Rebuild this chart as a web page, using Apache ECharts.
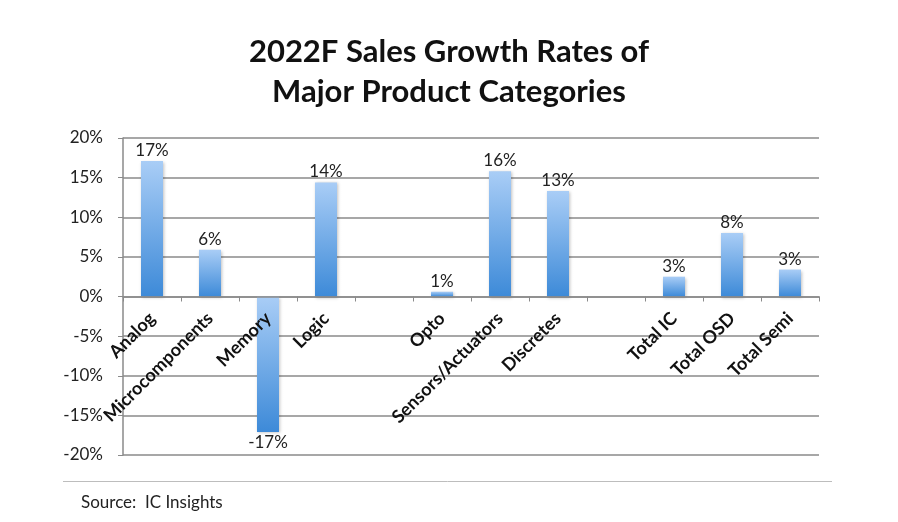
<!DOCTYPE html>
<html>
<head>
<meta charset="utf-8">
<script src="https://cdn.jsdelivr.net/npm/echarts@6/dist/echarts.min.js"></script>
<style>
  html, body { margin: 0; padding: 0; background: #fff; }
  #chart { width: 898px; height: 522px; }
</style>
</head>
<body>
<div id="chart"></div>
<script>
// categories (blank slots separate the groups)
const categories = ["Analog", "Microcomponents", "Memory", "Logic", "",
    "Opto", "Sensors/Actuators", "Discretes", "",
    "Total IC", "Total OSD", "Total Semi"];
// growth rate, %
const growth = [17.1, 5.9, -17.1, 14.4, null, 0.6, 15.8, 13.3, null, 2.5, 8.0, 3.4];
const yTicks = { min: -20, max: 20, interval: 5 };

const FONT = "Lato, 'Open Sans', sans-serif";
const GRID = { left: 123, right: 79, top: 138, bottom: 67 };
// plot height, so the category axis can sit on the 0% line
var plotH = 522 - GRID.top - GRID.bottom;
var zeroOffset = -plotH * (0 - yTicks.min) / (yTicks.max - yTicks.min);

var barFill = new echarts.graphic.LinearGradient(0, 0, 0, 1, [
    { offset: 0, color: "#a9cdf6" },
    { offset: 1, color: "#3d8ad8" },
]);

var seriesData = growth.map(function(v) {
    if (v === null) return null;
    return {
        value: v,
        label: { position: v < 0 ? "bottom" : "top" },
    };
});

var option = {
    backgroundColor: "#fff",
    title: {
        text: "2022F Sales Growth Rates of\nMajor Product Categories",
        left: "center", top: 27,
        textStyle: { fontFamily: FONT, fontSize: 31, fontWeight: "bold", color: "#111", lineHeight: 40 },
    },
    grid: { left: GRID.left, right: GRID.right, top: GRID.top, bottom: GRID.bottom, outerBoundsMode: "none" },
    xAxis: {
        type: "category", data: categories, position: "bottom", offset: zeroOffset, z: 10,
        axisLine: { onZero: false, lineStyle: { color: "#8a8a8a", width: 1.5 } },
        axisTick: { show: true, length: 5, inside: false, lineStyle: { color: "#8a8a8a" } },
        axisLabel: {
            rotate: 45, margin: 19, interval: 0,
            fontFamily: FONT, fontSize: 18, fontWeight: "bold", color: "#111",
        },
    },
    yAxis: {
        type: "value", min: yTicks.min, max: yTicks.max, interval: yTicks.interval,
        axisLine: { show: true, onZero: false, lineStyle: { color: "#8a8a8a", width: 1.5 } },
        axisTick: { show: true, length: 5, lineStyle: { color: "#8a8a8a" } },
        axisLabel: { formatter: "{value}%", margin: 20, fontFamily: FONT, fontSize: 17, color: "#222" },
        splitLine: { show: true, lineStyle: { color: "#8a8a8a", width: 1.5 } },
    },
    series: [{
        type: "bar", data: seriesData, barWidth: 22,
        itemStyle: {
            color: barFill,
            shadowColor: "rgba(0,0,0,0.25)", shadowBlur: 3, shadowOffsetX: 1, shadowOffsetY: 1,
        },
        label: {
            show: true, distance: 2,
            fontFamily: FONT, fontSize: 17, color: "#222",
            formatter: function(p) { return Math.round(p.value) + "%"; },
        },
    }],
    graphic: [
        { type: "line", shape: { x1: 63, y1: 481.5, x2: 832, y2: 481.5 },
          style: { stroke: "#bdbdbd", lineWidth: 1 } },
        { type: "text", left: 81, top: 494,
          style: { text: "Source:  IC Insights", fontFamily: FONT, fontSize: 17, fill: "#222" } },
    ],
};

var chart = echarts.init(document.getElementById("chart"));
chart.setOption(option);
</script>
</body>
</html>
